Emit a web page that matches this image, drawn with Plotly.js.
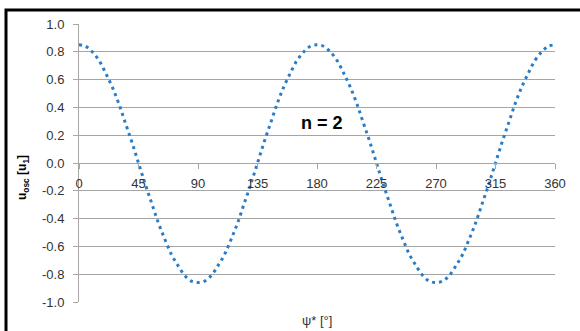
<!DOCTYPE html>
<html>
<head>
<meta charset="utf-8">
<script src="https://cdn.plot.ly/plotly-3.0.1.min.js"></script>
<style>
html,body{margin:0;padding:0;background:#fff;}
#chart{width:580px;height:331px;}
</style>
</head>
<body>
<div id="chart"></div>
<script>
// psi* in degrees
const psi = [0,5,10,15,20,25,30,35,40,45,50,55,60,65,70,75,80,85,90,
  95,100,105,110,115,120,125,130,135,140,145,150,155,160,165,170,175,180,
  185,190,195,200,205,210,215,220,225,230,235,240,245,250,255,260,265,270,
  275,280,285,290,295,300,305,310,315,320,325,330,335,340,345,350,355,360];
// u_osc values
const uOsc = [0.85,0.84,0.80,0.74,0.65,0.55,0.43,0.29,0.15,0.00,-0.15,-0.29,-0.43,-0.55,-0.66,-0.74,-0.81,-0.85,-0.86,
  -0.85,-0.81,-0.74,-0.66,-0.55,-0.43,-0.29,-0.15,0.00,0.15,0.29,0.43,0.55,0.65,0.74,0.80,0.84,0.85,
  0.84,0.80,0.74,0.65,0.55,0.43,0.29,0.15,0.00,-0.15,-0.29,-0.43,-0.55,-0.66,-0.74,-0.81,-0.85,-0.86,
  -0.85,-0.81,-0.74,-0.66,-0.55,-0.43,-0.29,-0.15,0.00,0.15,0.29,0.43,0.55,0.65,0.74,0.80,0.84,0.85];
const xTickVals = [0,45,90,135,180,225,270,315,360];
const yTickVals = [-1.0,-0.8,-0.6,-0.4,-0.2,0.0,0.2,0.4,0.6,0.8,1.0];
const yTickText = ['-1.0','-0.8','-0.6','-0.4','-0.2','0.0','0.2','0.4','0.6','0.8','1.0'];

const gridCol = '#a6a6a6';
const txtCol = '#333333';
const font = 'Liberation Sans, Arial, sans-serif';

const data = [{
  x: psi, y: uOsc, type: 'scatter', mode: 'lines',
  line: {color: '#2a7cc7', width: 3, dash: '3px,4px', shape: 'spline'},
  hoverinfo: 'skip'
}];

const layout = {
  width: 580, height: 331,
  margin: {l: 79, r: 25, t: 24, b: 29},
  paper_bgcolor: '#fff', plot_bgcolor: '#fff',
  showlegend: false,
  font: {family: font, size: 13, color: txtCol},
  xaxis: {
    range: [0, 360], tickvals: xTickVals, ticktext: xTickVals.map(String),
    anchor: 'free', position: 0.5,
    showgrid: false, zeroline: false,
    showline: true, linecolor: gridCol, linewidth: 1,
    ticks: 'outside', ticklen: 5, tickcolor: gridCol,
    ticklabelstandoff: 3,
    tickfont: {family: font, size: 13, color: txtCol}
  },
  yaxis: {
    range: [-1, 1], tickvals: yTickVals, ticktext: yTickText,
    showgrid: true, gridcolor: gridCol, gridwidth: 1,
    zeroline: false,
    showline: true, linecolor: gridCol, linewidth: 1,
    ticks: 'outside', ticklen: 5, tickcolor: gridCol,
    ticklabelstandoff: 6,
    tickfont: {family: font, size: 13, color: txtCol}
  },
  annotations: [
    {text: '<b>n = 2</b>', xref: 'paper', yref: 'paper', x: (322-79)/476, y: (302-123)/278,
     showarrow: false, font: {family: font, size: 18, color: '#000'}, xanchor: 'center', yanchor: 'middle'},
    {text: 'ψ* [°]', xref: 'paper', yref: 'paper', x: 0.5, y: (302-320)/278,
     showarrow: false, font: {family: font, size: 13, color: txtCol}, xanchor: 'center', yanchor: 'middle'},
    {text: '<b>u<sub>osc</sub> [u<sub>1</sub>]</b>', xref: 'paper', yref: 'paper', x: (23-79)/476, y: (302-178)/278,
     textangle: -90, showarrow: false, font: {family: font, size: 12, color: '#000'}, xanchor: 'center', yanchor: 'middle'}
  ],
  shapes: [
    {type: 'rect', xref: 'paper', yref: 'paper',
     x0: (6-79)/476, x1: (590-79)/476, y0: (302-345)/278, y1: (302-10)/278,
     line: {color: '#000', width: 3}, fillcolor: 'rgba(0,0,0,0)', layer: 'below'}
  ]
};

Plotly.newPlot('chart', data, layout, {displayModeBar: false, staticPlot: true});
</script>
</body>
</html>
